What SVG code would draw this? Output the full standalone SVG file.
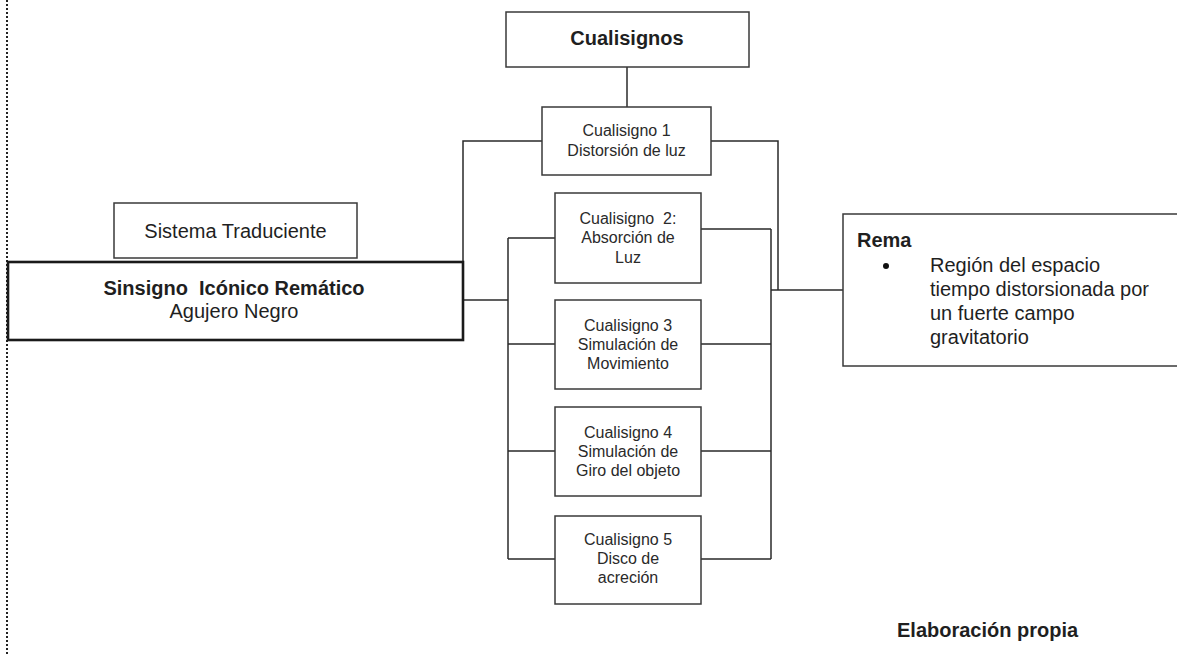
<svg xmlns="http://www.w3.org/2000/svg" width="1177" height="654" viewBox="0 0 1177 654">
  <style>
    .box { fill: #fff; stroke: #3a3a3a; stroke-width: 1.5; }
    .main { fill: #fff; stroke: #1a1a1a; stroke-width: 2.6; }
    .wire { fill: none; stroke: #2a2a2a; stroke-width: 1.5; }
    text { font-family: "Liberation Sans", Arial, sans-serif; fill: #1f1f1f; }
    .lg { font-size: 20px; }
    .sm { font-size: 16px; fill: #2a2a2a; }
    .b { font-weight: bold; }
    .c { text-anchor: middle; }
  </style>

  <!-- page margin guide -->
  <line x1="7" y1="0" x2="7" y2="654" stroke="#222" stroke-width="2" stroke-dasharray="2 2"/>

  <g id="connectors">
    <path class="wire" d="M627 67 V107"/>
    <path class="wire" d="M542 141 H463 V300"/>
    <path class="wire" d="M463 300 H508"/>
    <path class="wire" d="M508 238 V559"/>
    <path class="wire" d="M508 238 H555 M508 344 H555 M508 451 H555 M508 559 H555"/>
    <path class="wire" d="M701 229 H771 M701 344 H771 M701 451 H771 M701 559 H771"/>
    <path class="wire" d="M771 229 V559"/>
    <path class="wire" d="M711 141 H778 V290"/>
    <path class="wire" d="M771 290 H843"/>
  </g>

  <g id="cualisignos">
    <rect class="box" x="506" y="12" width="243" height="55"/>
    <text class="lg b c" x="627" y="45">Cualisignos</text>
  </g>

  <g id="cualisigno1">
    <rect class="box" x="542" y="107" width="169" height="68"/>
    <text class="sm c" x="626.5" y="136">Cualisigno 1</text>
    <text class="sm c" x="626.5" y="156">Distorsión de luz</text>
  </g>

  <g id="cualisigno2">
    <rect class="box" x="555" y="193" width="146" height="90"/>
    <text class="sm c" x="628" y="224" xml:space="preserve">Cualisigno  2:</text>
    <text class="sm c" x="628" y="243">Absorción de</text>
    <text class="sm c" x="628" y="263">Luz</text>
  </g>

  <g id="cualisigno3">
    <rect class="box" x="555" y="300" width="146" height="89"/>
    <text class="sm c" x="628" y="331">Cualisigno 3</text>
    <text class="sm c" x="628" y="350">Simulación de</text>
    <text class="sm c" x="628" y="369">Movimiento</text>
  </g>

  <g id="cualisigno4">
    <rect class="box" x="555" y="407" width="146" height="89"/>
    <text class="sm c" x="628" y="438">Cualisigno 4</text>
    <text class="sm c" x="628" y="457">Simulación de</text>
    <text class="sm c" x="628" y="476">Giro del objeto</text>
  </g>

  <g id="cualisigno5">
    <rect class="box" x="555" y="516" width="146" height="88"/>
    <text class="sm c" x="628" y="545">Cualisigno 5</text>
    <text class="sm c" x="628" y="564">Disco de</text>
    <text class="sm c" x="628" y="583">acreción</text>
  </g>

  <g id="sistema-traduciente">
    <rect class="box" x="114" y="203" width="243" height="55"/>
    <text class="lg c" x="235.5" y="238">Sistema Traduciente</text>
  </g>

  <g id="sinsigno">
    <rect class="main" x="8" y="262" width="455" height="78"/>
    <text class="lg b c" x="234" y="295" xml:space="preserve">Sinsigno  Icónico Remático</text>
    <text class="lg c" x="234" y="318">Agujero Negro</text>
  </g>

  <g id="rema">
    <rect class="box" x="843" y="214" width="345" height="152"/>
    <text class="lg b" x="857" y="247">Rema</text>
    <circle cx="886" cy="266" r="3" fill="#111"/>
    <text class="lg" x="930" y="272">Región del espacio</text>
    <text class="lg" x="930" y="296">tiempo distorsionada por</text>
    <text class="lg" x="930" y="320">un fuerte campo</text>
    <text class="lg" x="930" y="344">gravitatorio</text>
  </g>

  <g id="fuente">
    <text class="lg b" x="897" y="637">Elaboración propia</text>
  </g>
</svg>
